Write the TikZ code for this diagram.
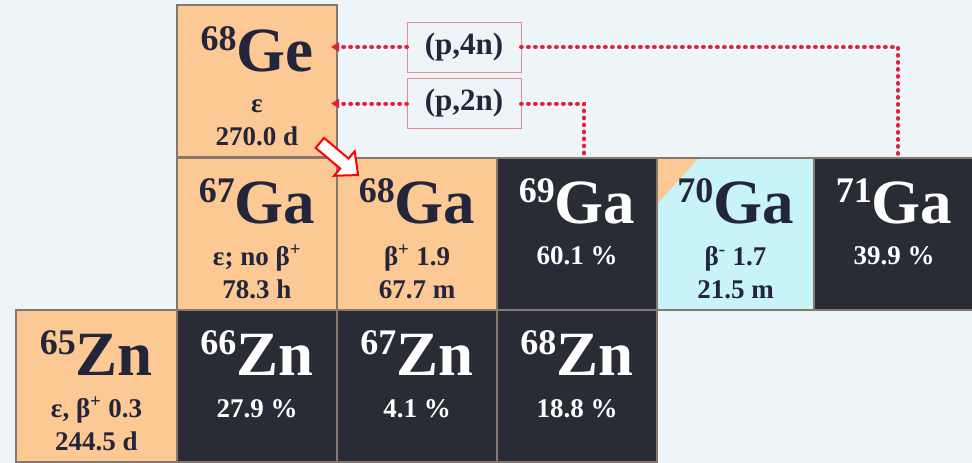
\documentclass[tikz,border=0pt]{standalone}
\usepackage{fontspec}
\setmainfont{Liberation Serif}
\usetikzlibrary{calc,arrows.meta}
\definecolor{bg}{HTML}{EEF5F9}
\definecolor{peach}{HTML}{FCC893}
\definecolor{darkc}{HTML}{292C35}
\definecolor{cyanc}{HTML}{C8F3F8}
\definecolor{edge}{HTML}{85786E}
\definecolor{ink}{HTML}{23263A}
\definecolor{dotred}{HTML}{E2203E}
\definecolor{boxred}{HTML}{E58A8E}
\newcommand\nuc[2]{{\fontsize{36}{36}\selectfont\raisebox{21pt}{#1}}{\fontsize{63}{63}\selectfont #2}}
\tikzset{
  cellbox/.style={draw=edge, line width=1.2pt, minimum width=160pt, minimum height=152pt, inner sep=0pt, outer sep=0pt},
  unstable/.style={cellbox, fill=peach},
  stable/.style={cellbox, fill=darkc},
  symtxt/.style={anchor=base, inner sep=0pt, font=\bfseries},
  subtxt/.style={anchor=base, inner sep=0pt, font=\bfseries\fontsize{27}{27}\selectfont},
  rxnbox/.style={draw=boxred, line width=1pt, fill=bg, minimum width=114pt, minimum height=50pt, inner sep=0pt, outer sep=0pt, font=\bfseries\fontsize{31}{31}\selectfont, text=ink},
  dotline/.style={draw=dotred, line width=4pt, line cap=round, dash pattern=on 0.8pt off 6.2pt},
}
\begin{document}
\begin{tikzpicture}[x=1pt,y=-1pt]
\fill[bg] (0,0) rectangle (972,463);
\useasboundingbox (0,0) rectangle (972,463);

% cells
\node[unstable] (ge68) at (257,81) {};
\node[unstable] (ga67) at (257,234) {};
\node[unstable] (ga68) at (417,234) {};
\node[stable] (ga69) at (577,234) {};
\node[cellbox, fill=cyanc, minimum width=157pt,
  path picture={\fill[peach] (path picture bounding box.north west) -- ++(42,0) -- ($(path picture bounding box.north west)+(0,46)$) -- cycle;}] (ga70) at (735.5,234) {};
\node[stable] (ga71) at (894,234) {};
\node[unstable, minimum width=161pt] (zn65) at (96.5,386) {};
\node[stable] (zn66) at (257,386) {};
\node[stable] (zn67) at (417,386) {};
\node[stable] (zn68) at (577,386) {};

% texts
\node[symtxt, text=ink] (ge68s) at ($(ge68.north)+(0,66)$) {\nuc{68}{Ge}};
\node[subtxt, text=ink] (ge68a) at ($(ge68.north)+(0,107)$) {ε};
\node[subtxt, text=ink] (ge68b) at ($(ge68.north)+(0,140)$) {270.0 d};

\node[symtxt, text=ink] (ga67s) at ($(ga67.north)+(0,65)$) {\nuc{67}{Ga}};
\node[subtxt, text=ink] (ga67a) at ($(ga67.north)+(0,107)$) {ε; no β\textsuperscript{+}};
\node[subtxt, text=ink] (ga67b) at ($(ga67.north)+(0,140)$) {78.3 h};

\node[symtxt, text=ink] (ga68s) at ($(ga68.north)+(0,65)$) {\nuc{68}{Ga}};
\node[subtxt, text=ink] (ga68a) at ($(ga68.north)+(0,107)$) {β\textsuperscript{+} 1.9};
\node[subtxt, text=ink] (ga68b) at ($(ga68.north)+(0,140)$) {67.7 m};

\node[symtxt, text=white] (ga69s) at ($(ga69.north)+(0,65)$) {\nuc{69}{Ga}};
\node[subtxt, text=white] (ga69a) at ($(ga69.north)+(0,106)$) {60.1 \%};

\node[symtxt, text=ink] (ga70s) at ($(ga70.north)+(0,65)$) {\nuc{70}{Ga}};
\node[subtxt, text=ink] (ga70a) at ($(ga70.north)+(0,107)$) {β\textsuperscript{-} 1.7};
\node[subtxt, text=ink] (ga70b) at ($(ga70.north)+(0,140)$) {21.5 m};

\node[symtxt, text=white] (ga71s) at ($(ga71.north)+(0,65)$) {\nuc{71}{Ga}};
\node[subtxt, text=white] (ga71a) at ($(ga71.north)+(0,106)$) {39.9 \%};

\node[symtxt, text=ink] (zn65s) at ($(zn65.north)+(0,65)$) {\nuc{65}{Zn}};
\node[subtxt, text=ink] (zn65a) at ($(zn65.north)+(0,107)$) {ε, β\textsuperscript{+} 0.3};
\node[subtxt, text=ink] (zn65b) at ($(zn65.north)+(0,140)$) {244.5 d};

\node[symtxt, text=white] (zn66s) at ($(zn66.north)+(0,65)$) {\nuc{66}{Zn}};
\node[subtxt, text=white] (zn66a) at ($(zn66.north)+(0,107)$) {27.9 \%};

\node[symtxt, text=white] (zn67s) at ($(zn67.north)+(0,65)$) {\nuc{67}{Zn}};
\node[subtxt, text=white] (zn67a) at ($(zn67.north)+(0,107)$) {4.1 \%};

\node[symtxt, text=white] (zn68s) at ($(zn68.north)+(0,65)$) {\nuc{68}{Zn}};
\node[subtxt, text=white] (zn68a) at ($(zn68.north)+(0,107)$) {18.8 \%};

% reaction boxes
\node[rxnbox] (p4n) at (464,47) {(p,4n)};
\node[rxnbox] (p2n) at (464,103.5) {(p,2n)};

% connectors
\draw[dotline, shorten >=-6pt, -{Triangle[length=8pt,width=9pt]}] (p4n.west) -- (p4n.west -| ge68.east);
\draw[dotline, shorten >=-6pt, -{Triangle[length=8pt,width=9pt]}] (p2n.west) -- (p2n.west -| ge68.east);
\draw[dotline] (p4n.east) -| ($(ga71.north)+(4,0)$);
\draw[dotline] (p2n.east) -| ($(ga69.north)+(7,0)$);

% hollow decay arrow
\begin{scope}[shift={(339,159)}, rotate=-40]
\draw[red, line width=2pt, fill=white, line join=miter]
  (-25,-6.5) -- (7,-6.5) -- (7,-16) -- (25,0) -- (7,16) -- (7,6.5) -- (-25,6.5) -- cycle;
\end{scope}
\end{tikzpicture}
\end{document}
